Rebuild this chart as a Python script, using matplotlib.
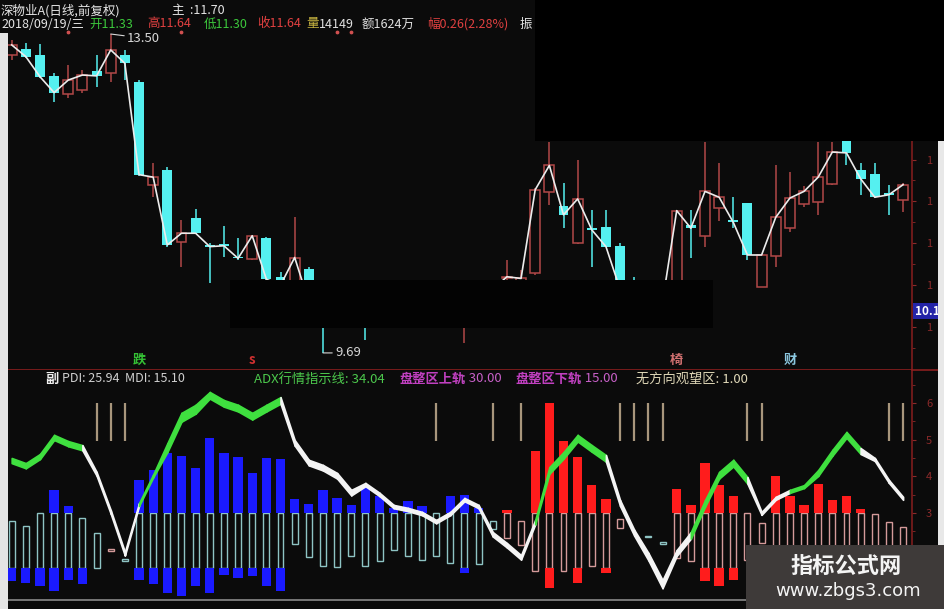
import matplotlib

matplotlib.use("Agg")
import matplotlib.pyplot as plt
import numpy as np
from matplotlib.patches import Rectangle
from matplotlib.lines import Line2D
from matplotlib.transforms import blended_transform_factory

plt.rcParams["font.family"] = ["Noto Sans CJK SC", "DejaVu Sans"]

# =====================data=====================================================
# daily candles, 64 sessions up to 2018/09/19
opens = [13.25, 13.32, 13.25, 13.00, 12.78, 12.83, 13.06, 13.03, 13.25, 12.93,
         11.70, 11.88, 11.02, 11.30, 10.98, 10.99, 10.83, 10.81, 11.06, 10.60,
         10.52, 10.69, 10.30, 10.05, 10.20, 10.15, 10.05, 10.25, 10.15, 10.35,
         10.20, 10.30, 10.10, 10.30, 10.40, 10.58, 10.50, 10.64, 11.61, 11.44,
         11.00, 11.18, 11.19, 10.97, 10.45, 10.30, 10.12, 10.30, 11.22, 11.09,
         11.42, 11.28, 11.48, 10.48, 10.85, 11.18, 11.47, 11.49, 11.71, 12.35,
         11.88, 11.83, 11.60, 11.52]
highs = [13.43, 13.39, 13.38, 13.03, 13.13, 13.07, 13.25, 13.50, 13.31, 12.95,
         11.96, 11.91, 11.28, 11.41, 11.00, 11.21, 11.06, 11.10, 11.08, 10.66,
         11.31, 10.72, 10.35, 10.30, 10.35, 10.25, 10.35, 10.40, 10.45, 10.45,
         10.42, 10.40, 10.40, 10.50, 10.55, 10.80, 10.68, 11.66, 12.21, 11.72,
         11.99, 11.40, 11.40, 11.00, 10.60, 10.40, 10.45, 11.40, 11.40, 12.21,
         11.96, 11.55, 11.48, 10.86, 11.93, 11.85, 11.68, 12.21, 12.21, 12.45,
         11.96, 11.96, 11.70, 11.72]
lows = [13.19, 13.21, 12.97, 12.69, 12.74, 12.80, 12.87, 12.93, 12.95, 11.80,
        11.55, 10.95, 10.72, 11.11, 10.52, 10.84, 10.80, 10.80, 10.56, 10.35,
        10.45, 10.20, 9.69, 10.00, 10.02, 9.84, 10.00, 10.05, 10.10, 10.12,
        10.05, 9.99, 9.81, 10.15, 10.25, 10.45, 10.42, 10.62, 11.46, 11.18,
        10.99, 10.72, 10.95, 10.40, 10.20, 10.02, 10.05, 10.28, 10.82, 10.96,
        11.27, 11.18, 10.80, 10.48, 10.72, 11.13, 11.43, 11.34, 11.70, 11.94,
        11.58, 11.54, 11.34, 11.37]
closes = [13.37, 13.23, 12.99, 12.80, 12.95, 13.01, 13.00, 13.31, 13.15, 11.82,
          11.79, 10.98, 11.12, 11.12, 10.96, 10.97, 10.82, 11.09, 10.57, 10.50,
          10.83, 10.30, 10.02, 10.20, 10.10, 10.05, 10.25, 10.15, 10.35, 10.20,
          10.30, 10.15, 10.30, 10.40, 10.45, 10.60, 10.58, 11.64, 11.93, 11.34,
          11.53, 11.16, 10.96, 10.45, 10.30, 10.10, 10.30, 11.39, 11.18, 11.62,
          11.55, 11.25, 10.86, 10.86, 11.31, 11.54, 11.62, 11.79, 12.09, 12.08,
          11.77, 11.55, 11.58, 11.70]

price_ticks = [10.0, 10.5, 11.0, 11.5, 12.0]
top_dots = [4, 12, 23, 24]

# ADX panel
adx = [45.0, 43.6, 46.1, 51.3, 49.6, 48.5, 41.2, 30.8, 19.4, 32.7,
       40.5, 49.0, 57.3, 59.5, 63.0, 60.8, 59.5, 57.3, 59.5, 61.6,
       49.9, 44.5, 43.1, 40.9, 36.3, 38.2, 35.5, 32.2, 31.4, 30.3,
       28.1, 30.3, 34.1, 32.2, 24.8, 21.8, 18.5, 28.1, 42.5, 46.6,
       51.3, 48.5, 45.8, 33.5, 25.4, 19.1, 11.7, 19.9, 24.8, 33.5,
       41.2, 44.5, 39.8, 30.3, 34.4, 36.3, 37.6, 41.7, 47.2, 52.1,
       47.7, 45.0, 39.0, 34.4]
adx_gap = [1.4, 1.4, 1.4, 1.4, 1.4, 1.4, 1.0, 1.0, 1.0, 0.8,
           0.8, 2.4, 2.4, 2.4, 1.8, 1.8, 1.8, 1.8, 1.8, 1.8,
           1.5, 1.5, 1.5, 1.5, 1.5, 0.9, 0.9, 0.9, 0.9, 0.9,
           0.9, 0.9, 0.9, 0.9, 1.2, 1.2, 1.2, 1.2, 1.8, 1.8,
           1.8, 1.8, 1.8, 1.6, 1.6, 2.0, 2.2, 1.6, 1.8, 1.8,
           1.8, 1.8, 1.8, 0.8, 0.8, 0.8, 0.8, 1.6, 1.6, 1.6,
           1.6, 0.8, 0.8, 0.8]
# 1 = green segment (bar k -> k+1), 0 = white
adx_green = [1] * 5 + [0] * 4 + [1] * 10 + [0] * 18 + [1] * 5 + [0] * 6 + \
            [1] * 4 + [0] * 3 + [1] * 5 + [0] * 3
nan = np.nan
pdi_top = [nan, nan, nan, 36.4, 31.8, nan, nan, nan, nan, 39.1,
           41.8, 46.4, 45.5, 42.3, 50.5, 46.4, 45.3, 40.9, 45.0, 44.8,
           33.8, 32.5, 36.4, 34.1, 32.3, 37.3, 34.5, 31.4, 33.2, 31.8,
           nan, 34.5, 35.0, 31.4, nan, 30.7, nan, 46.8, 60.0, 49.5,
           45.3, 37.7, 33.8, nan, nan, nan, nan, 36.5, 32.3, 43.6,
           37.7, 34.7, nan, nan, 40.0, 34.7, 32.3, 37.9, 33.6, 34.5,
           31.1, nan, nan, nan]
hol_top = [27.7, 26.4, 30, 30, 30, 28.6, 24.5, 20.2, 17.5, 30,
           30, 30, 30, 30, 30, 30, 30, 30, 30, 30,
           30, 30, 30, 30, 30, 30, 30, 30, 30, 30,
           30, 30, 30, 30, 27.7, 30, 27.7, 30, 30, 30,
           30, 30, 30, 28.4, nan, 23.8, 22.0, 30, 30, 30,
           30, 30, 30, 27.3, 30, 30, 30, 30, 30, 30,
           30, 29.8, 27.5, 26.1]
hol_bot = [15, 15, 15, 15, 15, 15, 15, 19.5, 17.0, 15,
           15, 15, 15, 15, 15, 15, 15, 15, 15, 15,
           21.5, 17.9, 15.5, 15.3, 18.4, 15.5, 17.0, 20.0, 18.4, 17.3,
           18.4, 16.4, 15, 16.0, 25.5, 23.2, 21.2, 14.1, 15, 14.1,
           15, 15.5, 15, 25.9, nan, 23.4, 21.6, 17.7, 16.8, 15,
           15, 15, 17.3, 21.8, 16, 16, 16, 16, 16, 16,
           16, 17, 18, 18]
mdi_bot = [11.4, 10.9, 10.0, 8.6, 11.8, 10.5, nan, nan, nan, 11.8,
           10.5, 8.2, 7.3, 10.0, 8.2, 13.2, 12.3, 12.7, 10.0, 8.6,
           nan, nan, nan, nan, nan, nan, nan, nan, nan, nan,
           nan, nan, 13.6, nan, nan, nan, nan, nan, 9.5, nan,
           10.9, nan, 13.6, nan, nan, nan, nan, nan, nan, 11.4,
           10.0, 11.8, nan, nan, nan, nan, nan, nan, nan, nan,
           nan, nan, nan, nan]
# 0 = blue / cyan family, 1 = red / pink family
side = [0] * 7 + [1] + [0] * 27 + [1] * 10 + [0, 0] + [1] * 17
wait_bars = [6, 7, 8, 30, 34, 36, 43, 44, 45, 46, 52, 53, 62, 63]
upper_rail = 30
lower_rail = 15
wait_lo, wait_hi = 49.6, 60.0
adx_ticks = [30, 40, 50, 60]
adx_tick_labels = ["3", "4", "5", "6"]

# =====================style====================================================
W, H = 945, 609
BG = "#0b0b0b"
CANDLE_RED = "#b24848"
CANDLE_CYAN = "#55f0f0"
BLUE = "#1a1aff"
RED = "#ff1c1c"
AXIS_RED = "#7e1c1c"
LABEL_RED = "#8c2a2a"


def fx(px):
    return px / W


def fy(py):
    return 1 - py / H


def ftext(fig, px, py, s, color, size=9, **kw):
    fig.text(fx(px), fy(py), s, color=color, fontsize=size, va="center",
             ha="left", **kw)


def frect(fig, x0, y0, x1, y1, color, z=5):
    fig.patches.append(Rectangle((fx(x0), fy(y1)), fx(x1 - x0), (y1 - y0) / H,
                                 transform=fig.transFigure, color=color,
                                 zorder=z, lw=0))


# =========================price panel==========================================
def draw_candles(ax):
    x = np.arange(len(closes))
    o, h, l, c = map(np.array, (opens, highs, lows, closes))
    up = c >= o
    col = np.where(up, CANDLE_RED, CANDLE_CYAN)
    ax.vlines(x, l, h, colors=col, lw=1.1, zorder=2)
    lo = np.minimum(o, c)
    hh = np.maximum(np.abs(c - o), 0.015)
    ax.bar(x[up], hh[up], bottom=lo[up], width=0.7, facecolor=BG,
           edgecolor=CANDLE_RED, lw=1.1, zorder=3)
    ax.bar(x[~up], hh[~up], bottom=lo[~up], width=0.7, color=CANDLE_CYAN,
           lw=0, zorder=3)
    ax.plot(x, c, color="#ececec", lw=1.2, zorder=4)
    ax.scatter(top_dots, [13.52] * len(top_dots), s=3, color="#d05050", zorder=4)

    hi_i = int(np.argmax(h))
    lo_i = int(np.argmin(l))
    ax.annotate(f"{h[hi_i]:.2f}", xy=(hi_i, h[hi_i]), xytext=(hi_i + 1.15, h[hi_i] - 0.05),
                color="#d8d8d8", fontsize=9.5, va="center", zorder=6,
                arrowprops=dict(arrowstyle="-", color="#d8d8d8", lw=0.8,
                                shrinkA=0, shrinkB=0))
    ax.annotate(f"{l[lo_i]:.2f}", xy=(lo_i, l[lo_i]), xytext=(lo_i + 0.85, l[lo_i]),
                color="#d8d8d8", fontsize=9.5, va="center", zorder=6,
                arrowprops=dict(arrowstyle="-", color="#d8d8d8", lw=0.8,
                                shrinkA=0, shrinkB=0))

    # signal words along the bottom of the price panel
    tr = blended_transform_factory(ax.transData, ax.transAxes)
    for i, s, col_ in [(9, "跌", "#34c034"), (17, "s", "#d03030"),
                       (47, "椅", "#d07070"), (55, "财", "#8cc8e0")]:
        ax.text(i, 0.03, s, transform=tr, color=col_, fontsize=9.5,
                ha="center", va="center", fontweight="bold")

    ax.set_xlim(-0.26, 63.63)
    ax.set_ylim(9.486, 13.548)
    ax.yaxis.tick_right()
    ax.set_yticks(price_ticks)
    ax.set_yticklabels(["1"] * len(price_ticks))
    ax.set_yticks(np.arange(9.75, 12.6, 0.25), minor=True)
    ax.tick_params(axis="y", which="both", colors=LABEL_RED, labelsize=8,
                   length=3, pad=7)
    ax.tick_params(axis="y", which="minor", length=2)
    ax.set_xticks([])

    trr = blended_transform_factory(ax.transAxes, ax.transData)
    ax.text(1.003, 10.19, "10.1", transform=trr, color="white", fontsize=8.5,
            fontweight="bold", va="center", ha="left", zorder=7,
            bbox=dict(boxstyle="square,pad=0.15", fc="#2424a8", ec="none"))


# =========================ADX panel============================================
def draw_adx(ax):
    x = np.arange(len(adx))
    sd = np.array(side)
    fill_col = np.where(sd == 0, BLUE, RED)
    hol_col = np.where(sd == 0, "#8ec4c4", "#d49a9a")

    ht, hb = np.array(hol_top), np.array(hol_bot)
    m = ~np.isnan(ht)
    ax.bar(x[m], ht[m] - hb[m], bottom=hb[m], width=0.42, facecolor="none",
           edgecolor=hol_col[m], lw=1.0, zorder=2)

    pt = np.array(pdi_top)
    m = ~np.isnan(pt)
    ax.bar(x[m], pt[m] - upper_rail, bottom=upper_rail, width=0.66,
           color=fill_col[m], lw=0, zorder=3)

    mb = np.array(mdi_bot)
    m = ~np.isnan(mb)
    ax.bar(x[m], mb[m] - lower_rail, bottom=lower_rail, width=0.66,
           color=fill_col[m], lw=0, zorder=3)

    ax.vlines(wait_bars, wait_lo, wait_hi, colors="#a8967c", lw=1.6, zorder=3)

    a = np.array(adx)
    lo = a - np.array(adx_gap)
    for k in range(len(a) - 1):
        c = "#3fe03f" if adx_green[k] else "#f4f4f4"
        ax.fill_between(x[k:k + 2], lo[k:k + 2], a[k:k + 2], color=c, lw=1.2,
                        zorder=5)

    ax.set_xlim(-0.26, 63.63)
    ax.set_ylim(6.27, 69.0)
    ax.yaxis.tick_right()
    ax.set_yticks(adx_ticks)
    ax.set_yticklabels(adx_tick_labels)
    ax.set_yticks(np.arange(25, 66, 5), minor=True)
    ax.tick_params(axis="y", which="both", colors=LABEL_RED, labelsize=8,
                   length=3, pad=7)
    ax.tick_params(axis="y", which="minor", length=2)
    ax.set_xticks([])


def style_axes(ax, bottom_color):
    ax.set_facecolor(BG)
    for s in ["top", "left"]:
        ax.spines[s].set_visible(False)
    ax.spines["right"].set_color(AXIS_RED)
    ax.spines["right"].set_linewidth(1.2)
    ax.spines["bottom"].set_color(bottom_color)
    ax.spines["bottom"].set_linewidth(1.2)


# ===========================main===============================================
if __name__ == "__main__":
    fig = plt.figure(figsize=(W / 100, H / 100), dpi=100, facecolor=BG)
    ax = fig.add_axes([fx(8), fy(370), fx(904), 340 / H])
    ax2 = fig.add_axes([fx(8), fy(600), fx(904), 230 / H])
    style_axes(ax, "#8b1f1f")
    style_axes(ax2, "#8a8a8a")
    ax2.spines["top"].set_visible(False)

    draw_candles(ax)
    draw_adx(ax2)

    # header rows
    ftext(fig, 1, 11, "深物业A(日线,前复权)", "#e6e6e6")
    ftext(fig, 172, 11, "主  :11.70", "#e6e6e6")
    row = [(1, "2018/09/19/三", "#e6e6e6"), (89, "开11.33", "#3cc83c"),
           (147, "高11.64", "#e04040"), (204, "低11.30", "#3cc83c"),
           (257, "收11.64", "#e04040"), (306, "量", "#c8b440"),
           (319, "14149", "#e0e0e0"), (362, "额1624万", "#e0e0e0"),
           (427, "幅0.26(2.28%)", "#e04040"), (520, "振", "#e6e6e6")]
    for px, s, col in row:
        ftext(fig, px, 24, s, col)

    # ADX header row
    ftext(fig, 45, 379, "副", "#f0f0f0", size=9.5, fontweight="bold")
    ftext(fig, 62, 379, "PDI: 25.94  MDI: 15.10", "#d0d0d0", size=9)
    ftext(fig, 254, 379, "ADX行情指示线: 34.04", "#4cc84c", size=9.5)
    ftext(fig, 399, 379, "盘整区上轨", "#c040c0", size=9.5, fontweight="bold")
    ftext(fig, 462, 379, ": 30.00", "#c860c8", size=9.5)
    ftext(fig, 515, 379, "盘整区下轨", "#c040c0", size=9.5, fontweight="bold")
    ftext(fig, 578, 379, ": 15.00", "#c860c8", size=9.5)
    ftext(fig, 636, 379, "无方向观望区: 1.00", "#e0d8b8", size=9.5)

    # separator line past the axis and the screenshot edges
    fig.lines.append(Line2D([fx(912), fx(938)], [fy(370), fy(370)],
                            transform=fig.transFigure, color="#8b1f1f", lw=1.2))
    frect(fig, 0, 33, 8, 609, "#e4e4e4", z=4)
    frect(fig, 938, 140, 945, 545, "#e8e8e8", z=4)

    # censor blocks
    frect(fig, 535, 0, 945, 141, "#000000", z=8)
    frect(fig, 230, 280, 713, 328, "#030303", z=8)

    # watermark
    frect(fig, 746, 545, 945, 609, "#3e3a39", z=9)
    fig.text(fx(846), fy(566), "指标公式网", color="#f4f4f4", fontsize=16,
             fontweight="bold", ha="center", va="center", zorder=10)
    fig.text(fx(848), fy(591), "www.zbgs3.com", color="#f4f4f4", fontsize=13,
             ha="center", va="center", zorder=10, family=["DejaVu Sans"])

    fig.savefig("out.png", dpi=100, facecolor=BG)
